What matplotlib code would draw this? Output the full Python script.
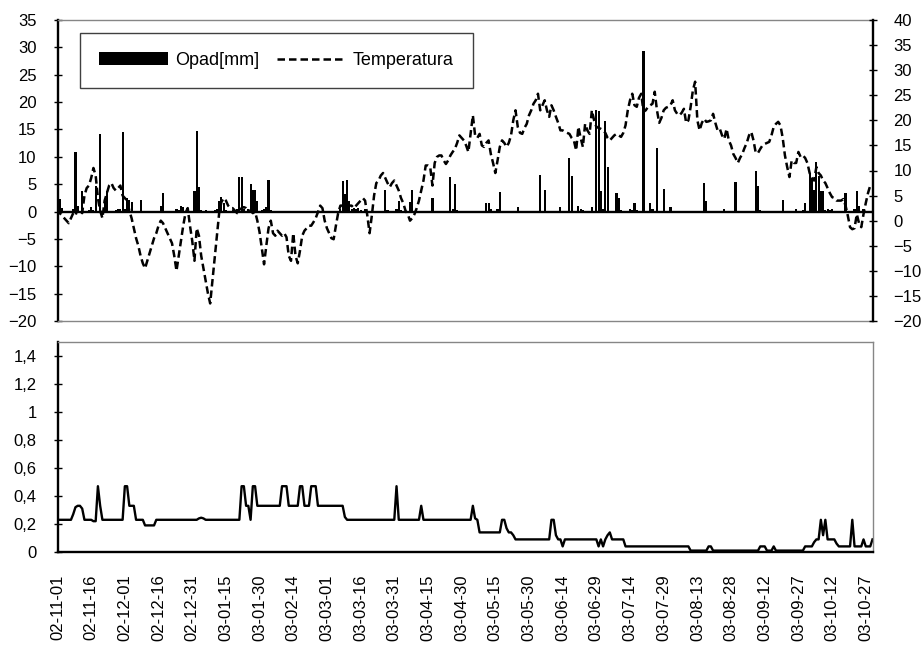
import matplotlib
matplotlib.use('Agg')
import matplotlib.pyplot as plt
import numpy as np
from matplotlib.ticker import FuncFormatter

plt.rcParams['font.family'] = ['Liberation Sans', 'DejaVu Sans']

# x-axis tick labels (every 15 days, starting 2002-11-01)
tick_labels = ['02-11-01', '02-11-16', '02-12-01', '02-12-16', '02-12-31',
               '03-01-15', '03-01-30', '03-02-14', '03-03-01', '03-03-16',
               '03-03-31', '03-04-15', '03-04-30', '03-05-15', '03-05-30',
               '03-06-14', '03-06-29', '03-07-14', '03-07-29', '03-08-13',
               '03-08-28', '03-09-12', '03-09-27', '03-10-12', '03-10-27']

# daily precipitation [mm] (left axis of top panel)
opad_mm = [
    8.4, 2.3, 0.7, 0, 0, 0, 0, 0.5, 10.9, 1, 0, 3.8, 0, 0, 0.3,
    0.8, 0.3, 4.7, 0, 14.2, 0, 2, 3.8, 0, 0, 0, 0.3, 0.5, 0.5, 14.6,
    0.5, 2.5, 2.2, 1.8, 0, 0, 0, 2.2, 0, 0, 0, 0, 0, 0, 0,
    0, 1.1, 3.3, 0, 0, 0, 0, 0, 0.5, 0.3, 1, 0.8, 0, 0, 0,
    0, 3.7, 14.8, 4.4, 0.3, 0, 0.3, 0, 0, 0, 0.3, 0.5, 2, 2.7, 1.5,
    0.3, 0, 0, 0.3, 0.3, 0.5, 6.4, 6.4, 0.5, 0, 0.5, 5, 4, 4, 1.9,
    0, 0.3, 0.5, 0.8, 5.8, 0.3, 0, 0, 0, 0, 0, 0, 0, 0, 0,
    0, 0, 0, 0, 0, 0, 0, 0, 0, 0, 0, 0, 0, 0, 0,
    0, 0, 0, 0, 0, 0, 0.5, 5.6, 3.2, 5.8, 2, 0.5, 0.7, 0.5, 0.7,
    0.3, 0, 0.5, 0, 0, 0, 0, 0, 0, 0, 0, 4, 0.3, 0, 0,
    0, 0.5, 2, 0.3, 0, 0, 0, 1.7, 3.9, 0, 0, 0, 0, 0, 0,
    0, 0, 2.5, 0, 0, 0, 0, 0, 0, 0, 6.3, 0.5, 5.1, 0.3, 0,
    0, 0, 0, 0, 0, 0, 0, 0, 0, 0, 0, 1.5, 1.5, 0.5, 0,
    0, 0.5, 3.5, 0, 0, 0, 0, 0, 0, 0, 0.8, 0, 0, 0, 0,
    0, 0, 0, 0, 0, 6.7, 0, 3.9, 0, 0, 0, 0, 0, 0, 0.8,
    0, 0, 0, 9.8, 6.5, 0, 0, 1.1, 0.5, 0.3, 0, 0, 0, 0.8, 0,
    18.5, 18.3, 3.8, 0.5, 16.6, 8.2, 0, 0, 0, 3.3, 2.5, 0.3, 0, 0, 0,
    0.5, 0.3, 1.5, 0.3, 0, 0, 29.3, 0, 0, 1.6, 0.5, 0, 11.7, 0, 0,
    4.1, 0, 0, 0.8, 0, 0, 0, 0, 0, 0, 0, 0, 0, 0, 0,
    0, 0, 0, 5.2, 1.9, 0, 0, 0, 0, 0, 0, 0, 0.5, 0, 0,
    0, 0, 5.4, 0, 0, 0, 0, 0, 0, 0, 0, 7.4, 4.6, 0.3, 0,
    0, 0, 0, 0, 0, 0, 0, 0, 2.1, 0, 0, 0, 0, 0, 0.4,
    0, 0, 0.3, 1.6, 0, 7.1, 5.9, 4, 9, 6.5, 3.8, 3.8, 0.3, 0.4, 0.3,
    0.4, 0, 0, 0, 0, 0, 3.3, 0, 0, 0, 0.5, 3.8, 1, 0, 0.5,
    0, 0, 0, 0,
]

# daily mean temperature [deg C] (right axis of top panel)
temperatura = [
    2.5, 1.5, 1, 0.5, 0, -0.5, 0.5, 1.5, 1, 2.5, 2, 1.5, 5, 6.5, 7,
    8.5, 10.5, 9, 4.5, 2, 0.5, 4, 5.5, 7, 7.5, 6.5, 6, 6.5, 7, 5,
    4.5, 4, 2, 0.5, -1.5, -3.5, -5, -7, -8.5, -9.5, -8, -6.5, -5, -3.5, -2.5,
    -1, 0, -0.5, -1.5, -2.5, -3.5, -4.5, -7, -10, -7, -4, -1, 1.5, 2.5, -1,
    -4, -8, -1.5, -3, -7, -9.5, -12, -14.5, -16.5, -12, -7.5, -3, 1.5, 3.7, 4.5,
    4, 3, 2.5, 2.5, 2, 1.5, 2, 2.5, 2.7, 2.5, 2, 2, 1.5, 1.8, 0,
    -2.3, -5.5, -8.7, -5, -1.5, 0, -2.5, -3, -2, -2.5, -3, -2.5, -3.3, -7, -8,
    -2.5, -7, -8.5, -6, -3, -2, -1.5, -1, -1, -0.3, 0.5, 1.7, 3, 2.5, 0,
    -1.5, -2.5, -3.5, -3.7, -1, 1.5, 3, 3, 3, 2.5, 3, 3, 2.5, 3, 3.5,
    4, 4.5, 4, 1, -2.5, 1, 5, 7.5, 8, 9, 9.5, 8.5, 7.5, 6.7, 7.5,
    8, 7, 6, 4.5, 3.5, 2, 1.3, 0, 0.5, 1.3, 2.5, 4, 6, 8, 11,
    11, 10.7, 7, 11.5, 12.7, 13, 13, 12, 11.3, 12, 13, 13.7, 14.3, 15.5, 17,
    16.5, 16, 15, 13.7, 17.3, 21, 17, 16.5, 17.3, 15, 14.7, 15.5, 16, 13.3, 11.5,
    9.5, 12, 14.7, 16, 15.5, 14.7, 15.5, 17, 20, 22, 18.7, 17.5, 17.3, 18.5, 19.3,
    21, 22, 23.3, 24, 25.3, 22, 23, 24, 22, 20.7, 23, 22, 20.7, 19.5, 18,
    18, 17.7, 17.5, 17.3, 16.5, 16, 14, 18.7, 16.5, 14.7, 19.3, 18, 17.3, 22, 20,
    18.7, 18.5, 18.3, 18, 17.5, 16.5, 16, 16.5, 17, 17.3, 17, 16.7, 17.5, 19, 22,
    24, 25.3, 23, 22.7, 24.5, 25.3, 21.7, 22, 22.7, 23, 23.3, 25.7, 22, 19.5, 20.5,
    22, 22.5, 22.7, 23, 24, 22, 21.3, 21, 21.5, 22.3, 19.5, 20, 22.7, 26, 27.7,
    20, 18, 19.5, 20.3, 19.7, 19.8, 20, 21.3, 19.5, 18, 18.3, 17, 16.3, 18.3, 16,
    15, 13.3, 12.5, 11.5, 12.5, 13.3, 14.5, 15.5, 17, 17.7, 16, 13.5, 13.5, 14.3, 15,
    15.3, 15.5, 15.7, 17, 18.7, 19.3, 19.7, 19, 16.5, 13, 10.7, 8.7, 12, 11.5, 11.5,
    13.7, 12.7, 13, 12.5, 11.5, 9.5, 8.5, 8, 10.7, 9.5, 9, 8, 7.5, 6.5, 5.5,
    4.7, 4.5, 4, 4, 4, 4.3, 3, 1, -1.3, -1.7, -1.5, 1.3, -0.5, -1.3, 1.3,
    3.5, 5.5, 7, 7,
]

# daily values of the lower panel
dolny = [
    0.23, 0.23, 0.23, 0.23, 0.23, 0.23, 0.23, 0.27, 0.32, 0.33, 0.33, 0.31, 0.23, 0.23, 0.23,
    0.23, 0.22, 0.22, 0.47, 0.33, 0.23, 0.23, 0.23, 0.23, 0.23, 0.23, 0.23, 0.23, 0.23, 0.23,
    0.47, 0.47, 0.33, 0.33, 0.33, 0.23, 0.23, 0.23, 0.23, 0.19, 0.19, 0.19, 0.19, 0.19, 0.23,
    0.23, 0.23, 0.23, 0.23, 0.23, 0.23, 0.23, 0.23, 0.23, 0.23, 0.23, 0.23, 0.23, 0.23, 0.23,
    0.23, 0.23, 0.23, 0.24, 0.245, 0.24, 0.23, 0.23, 0.23, 0.23, 0.23, 0.23, 0.23, 0.23, 0.23,
    0.23, 0.23, 0.23, 0.23, 0.23, 0.23, 0.23, 0.47, 0.47, 0.33, 0.33, 0.23, 0.47, 0.47, 0.33,
    0.33, 0.33, 0.33, 0.33, 0.33, 0.33, 0.33, 0.33, 0.33, 0.33, 0.47, 0.47, 0.47, 0.33, 0.33,
    0.33, 0.33, 0.33, 0.47, 0.47, 0.33, 0.33, 0.33, 0.47, 0.47, 0.47, 0.33, 0.33, 0.33, 0.33,
    0.33, 0.33, 0.33, 0.33, 0.33, 0.33, 0.33, 0.33, 0.25, 0.23, 0.23, 0.23, 0.23, 0.23, 0.23,
    0.23, 0.23, 0.23, 0.23, 0.23, 0.23, 0.23, 0.23, 0.23, 0.23, 0.23, 0.23, 0.23, 0.23, 0.23,
    0.23, 0.47, 0.23, 0.23, 0.23, 0.23, 0.23, 0.23, 0.23, 0.23, 0.23, 0.23, 0.33, 0.23, 0.23,
    0.23, 0.23, 0.23, 0.23, 0.23, 0.23, 0.23, 0.23, 0.23, 0.23, 0.23, 0.23, 0.23, 0.23, 0.23,
    0.23, 0.23, 0.23, 0.23, 0.23, 0.33, 0.24, 0.23, 0.14, 0.14, 0.14, 0.14, 0.14, 0.14, 0.14,
    0.14, 0.14, 0.14, 0.23, 0.23, 0.17, 0.14, 0.14, 0.12, 0.09, 0.09, 0.09, 0.09, 0.09, 0.09,
    0.09, 0.09, 0.09, 0.09, 0.09, 0.09, 0.09, 0.09, 0.09, 0.09, 0.23, 0.23, 0.12, 0.09, 0.09,
    0.04, 0.09, 0.09, 0.09, 0.09, 0.09, 0.09, 0.09, 0.09, 0.09, 0.09, 0.09, 0.09, 0.09, 0.09,
    0.09, 0.04, 0.09, 0.04, 0.09, 0.12, 0.14, 0.09, 0.09, 0.09, 0.09, 0.09, 0.09, 0.04, 0.04,
    0.04, 0.04, 0.04, 0.04, 0.04, 0.04, 0.04, 0.04, 0.04, 0.04, 0.04, 0.04, 0.04, 0.04, 0.04,
    0.04, 0.04, 0.04, 0.04, 0.04, 0.04, 0.04, 0.04, 0.04, 0.04, 0.04, 0.04, 0.01, 0.01, 0.01,
    0.01, 0.01, 0.01, 0.01, 0.01, 0.04, 0.04, 0.01, 0.01, 0.01, 0.01, 0.01, 0.01, 0.01, 0.01,
    0.01, 0.01, 0.01, 0.01, 0.01, 0.01, 0.01, 0.01, 0.01, 0.01, 0.01, 0.01, 0.01, 0.04, 0.04,
    0.04, 0.01, 0.01, 0.01, 0.04, 0.01, 0.01, 0.01, 0.01, 0.01, 0.01, 0.01, 0.01, 0.01, 0.01,
    0.01, 0.01, 0.01, 0.04, 0.04, 0.04, 0.04, 0.07, 0.09, 0.09, 0.23, 0.12, 0.23, 0.09, 0.09,
    0.09, 0.09, 0.06, 0.04, 0.04, 0.04, 0.04, 0.04, 0.04, 0.23, 0.04, 0.04, 0.04, 0.04, 0.09,
    0.04, 0.04, 0.04, 0.09,
]

GRAY = '#868686'
FS = 12
LEG_FS = 13

n_days = max(len(opad_mm), len(temperatura), len(dolny))

fig = plt.figure(figsize=(9.22, 6.49), dpi=100)
left = 57.5 / 922
width = (872.5 - 57.5) / 922
ax = fig.add_axes([left, 1 - 321 / 649, width, 301 / 649])
ax2 = ax.twinx()
axb = fig.add_axes([left, 1 - 552 / 649, width, 210 / 649])

# ---- top panel ----
bars = ax.bar(np.arange(len(opad_mm)), opad_mm, width=0.95, color='black',
              linewidth=0, label='Opad[mm]', zorder=2)
ax.axhline(0, color='black', lw=1.7, zorder=3)
ax.set_ylim(-20, 35)
ax.set_yticks(np.arange(-20, 36, 5))
ax.set_xlim(0, n_days - 1)
ax.set_xticks([])

line, = ax2.plot(np.arange(len(temperatura)), temperatura, color='black', lw=1.8,
                 linestyle=(0, (3, 1.6)), label='Temperatura', zorder=4)
ax2.set_ylim(-20, 40)
ax2.set_yticks(np.arange(-20, 41, 5))
ax2.set_xlim(0, n_days - 1)
ax2.set_xticks([])

for a in (ax, ax2):
    a.tick_params(axis='y', direction='inout', length=6, width=1,
                  labelsize=FS, pad=12, colors='black')

ax.spines['left'].set_color('black')
ax.spines['left'].set_linewidth(1.7)
ax.spines['right'].set_visible(False)
for s in ('top', 'bottom'):
    ax.spines[s].set_color(GRAY)
    ax.spines[s].set_linewidth(1)
for s in ('left', 'top', 'bottom'):
    ax2.spines[s].set_visible(False)
ax2.spines['right'].set_color('black')
ax2.spines['right'].set_linewidth(1.7)

leg = ax2.legend([bars, line], ['Opad[mm]', 'Temperatura'], loc='upper left',
                 bbox_to_anchor=(0.0276, 0.957), borderaxespad=0, ncol=2,
                 frameon=True, fancybox=False, edgecolor='#404040', framealpha=1,
                 handlelength=3.8, handletextpad=0.4, columnspacing=1.0,
                 borderpad=1.05, fontsize=LEG_FS)
leg.get_frame().set_linewidth(1)

# ---- bottom panel ----
axb.plot(np.arange(len(dolny)), dolny, color='black', lw=1.7)
axb.set_xlim(0, n_days - 1)
axb.set_ylim(0, 1.5)
axb.set_yticks(np.arange(0, 1.41, 0.2))
axb.yaxis.set_major_formatter(FuncFormatter(lambda v, p: f'{round(v, 1):g}'.replace('.', ',')))
axb.set_xticks(np.arange(0, 15 * len(tick_labels), 15))
axb.set_xticklabels(tick_labels, rotation=90)
axb.tick_params(axis='x', length=0, pad=16, labelsize=FS)
axb.tick_params(axis='y', direction='inout', length=6, width=1, labelsize=FS, pad=12)
for s in ('left', 'bottom'):
    axb.spines[s].set_color('black')
    axb.spines[s].set_linewidth(1.7)
for s in ('top', 'right'):
    axb.spines[s].set_color(GRAY)
    axb.spines[s].set_linewidth(1)

fig.savefig('out.png', dpi=100)
